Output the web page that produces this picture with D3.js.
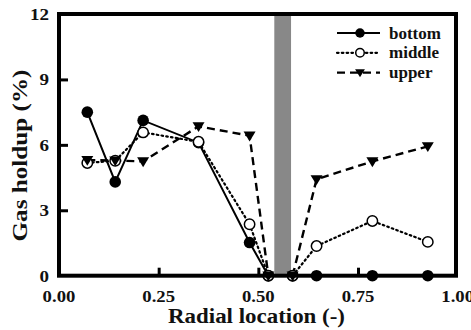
<!DOCTYPE html>
<html><head><meta charset="utf-8">
<script src="https://cdn.jsdelivr.net/npm/d3@7"></script>
<style>body{margin:0;background:#fff}svg{display:block}text{font-family:"Liberation Serif","Times New Roman",serif;font-weight:bold;fill:#111}</style>
</head><body><svg id="c" width="471" height="330"></svg>
<script>
const radial = [0.071, 0.141, 0.211, 0.350, 0.478, 0.525, 0.586, 0.646, 0.786, 0.925];
const bottom = [7.50, 4.30, 7.12, 6.10, 1.52, 0, 0, 0, 0, 0];
const middle = [5.17, 5.27, 6.57, 6.14, 2.36, 0, 0, 1.36, 2.51, 1.55];
const upper  = [5.30, 5.28, 5.24, 6.85, 6.42, 0, 0, 4.42, 5.24, 5.93];
const seriesNames = ["bottom", "middle", "upper"];
const band = [0.54, 0.582];
const xTicks = [0, 0.25, 0.5, 0.75, 1.0];
const xTickLabels = ["0.00", "0.25", "0.50", "0.75", "1.00"];
const yTicks = [0, 3, 6, 9, 12];
const yTickLabels = ["0", "3", "6", "9", "12"];

const svg = d3.select("#c");
const L = 59, R = 456, T = 14, B = 275.7;
const x = d3.scaleLinear().domain([0, 1]).range([L, L + 398.7]);
const y = d3.scaleLinear().domain([0, 12]).range([B, T]);

function stretch(sel, f) {
  sel.each(function () {
    const w = this.getComputedTextLength();
    d3.select(this).attr("textLength", w * f).attr("lengthAdjust", "spacingAndGlyphs");
  });
}

// gray band
svg.append("rect").attr("x", x(band[0])).attr("y", T).attr("width", x(band[1]) - x(band[0]))
  .attr("height", B - T).attr("fill", "#888");

// series
const series = [
  {name: seriesNames[0], vals: bottom, dash: null, width: 2, marker: "fill"},
  {name: seriesNames[1], vals: middle, dash: "1.6,3.2", width: 2.2, marker: "open"},
  {name: seriesNames[2], vals: upper, dash: "8,5", width: 2.4, marker: "tri"}
];
const line = d3.line().x(d => x(d[0])).y(d => y(d[1]));

function drawMarker(g, type, cx, cy, s) {
  if (type === "fill") {
    g.append("circle").attr("cx", cx).attr("cy", cy).attr("r", 5.8 * s).attr("fill", "#000");
  } else if (type === "open") {
    g.append("circle").attr("cx", cx).attr("cy", cy).attr("r", 5.2 * s).attr("fill", "#fff")
      .attr("stroke", "#000").attr("stroke-width", 1.5);
  } else {
    const w = 6 * s, h = 5.2 * s;
    g.append("path").attr("d", `M${cx - w},${cy - h * 0.8}L${cx + w},${cy - h * 0.8}L${cx},${cy + h * 1.1}Z`)
      .attr("fill", "#000");
  }
}

series.forEach(s => {
  const pts = radial.map((r, i) => [r, s.vals[i]]);
  const left = pts.filter(p => p[0] < band[0]);
  const right = pts.filter(p => p[0] > band[1]);
  [left, right].forEach(seg => {
    svg.append("path").attr("d", line(seg)).attr("fill", "none").attr("stroke", "#000")
      .attr("stroke-width", s.width).attr("stroke-dasharray", s.dash)
      .attr("stroke-linecap", s.marker === "open" ? "round" : "butt");
  });
});
series.forEach(s => {
  const g = svg.append("g");
  radial.forEach((r, i) => drawMarker(g, s.marker, x(r), y(s.vals[i]), 1));
});

// frame
svg.append("rect").attr("x", L).attr("y", T).attr("width", R - L).attr("height", B - T)
  .attr("fill", "none").attr("stroke", "#000").attr("stroke-width", 4);

// ticks (inside)
const xAxis = d3.axisTop(x).tickValues(xTicks.slice(1, 4)).tickSize(8).tickFormat("");
svg.append("g").attr("transform", `translate(0,${B})`).call(xAxis)
  .call(g => g.select(".domain").remove())
  .call(g => g.selectAll("line").attr("stroke", "#000").attr("stroke-width", 3));
const yAxis = d3.axisRight(y).tickValues(yTicks.slice(1, 4)).tickSize(9).tickFormat("");
svg.append("g").attr("transform", `translate(${L},0)`).call(yAxis)
  .call(g => g.select(".domain").remove())
  .call(g => g.selectAll("line").attr("stroke", "#000").attr("stroke-width", 3));

// tick labels
const xl = svg.append("g").selectAll("text").data(xTicks).join("text")
  .attr("x", d => x(d)).attr("y", 301.5).attr("text-anchor", "middle")
  .attr("font-size", 17).text((d, i) => xTickLabels[i]);
stretch(xl, 1.1);
const yl = svg.append("g").selectAll("text").data(yTicks).join("text")
  .attr("x", 49).attr("y", d => y(d) + 5.8).attr("text-anchor", "end")
  .attr("font-size", 17).text((d, i) => yTickLabels[i]);
stretch(yl, 1.12);

// axis titles
svg.append("text").attr("x", 256.5).attr("y", 323).attr("text-anchor", "middle")
  .attr("font-size", 20).attr("textLength", 177).attr("lengthAdjust", "spacingAndGlyphs")
  .text("Radial location (-)");
svg.append("text").attr("transform", "translate(27,155.5) rotate(-90)").attr("text-anchor", "middle")
  .attr("font-size", 20).attr("textLength", 172).attr("lengthAdjust", "spacingAndGlyphs")
  .text("Gas holdup (%)");

// legend
const leg = svg.append("g");
series.forEach((s, i) => {
  const ly = 33 + i * 19.8;
  leg.append("line").attr("x1", 337).attr("x2", 380).attr("y1", ly).attr("y2", ly)
    .attr("stroke", "#000").attr("stroke-width", s.width).attr("stroke-dasharray", s.dash)
    .attr("stroke-linecap", s.marker === "open" ? "round" : "butt");
  drawMarker(leg, s.marker, 360, ly, 0.82);
  leg.append("text").attr("x", 389).attr("y", ly + 5.5).attr("font-size", 17).text(s.name);
});
</script></body></html>
